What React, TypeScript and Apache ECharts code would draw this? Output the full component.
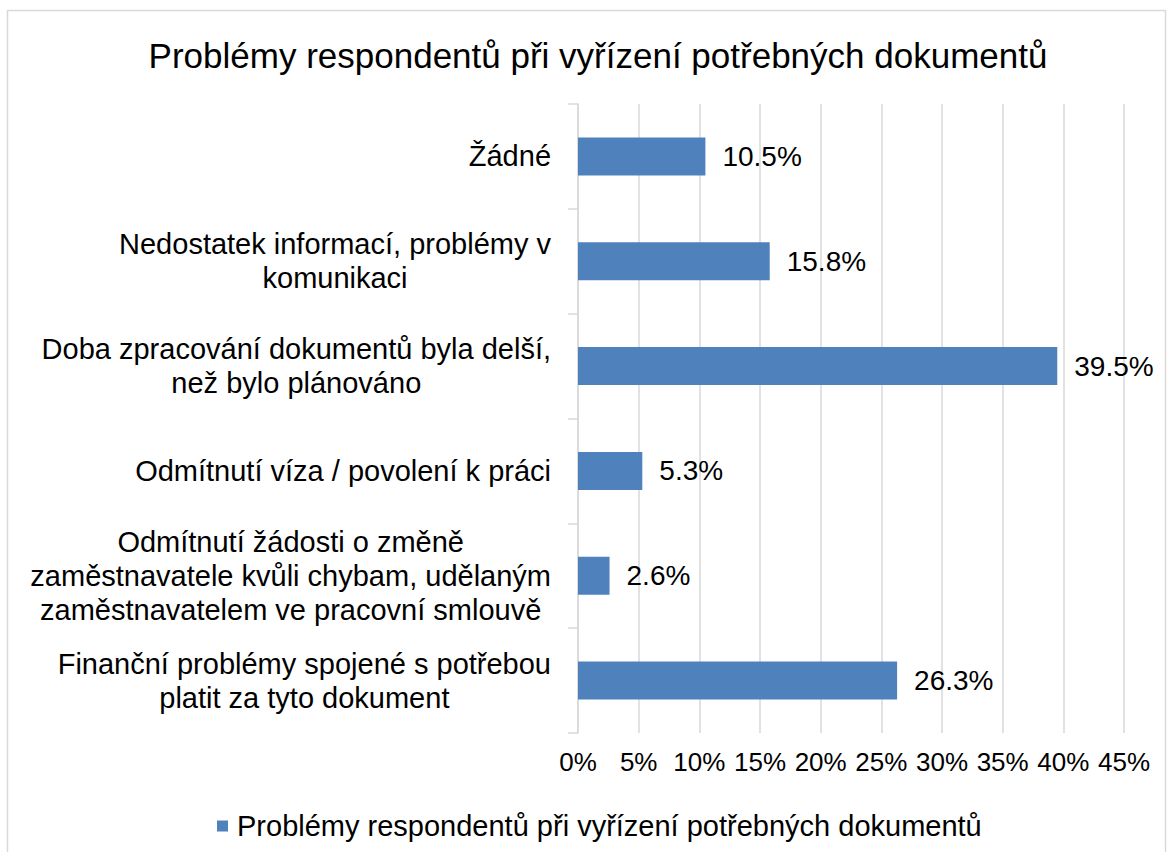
import React, { useEffect, useRef } from "react";
import * as echarts from "echarts";

const TITLE = "Problémy respondentů při vyřízení potřebných dokumentů";
const SERIES_NAME = "Problémy respondentů při vyřízení potřebných dokumentů";

const categories: string[] = [
  "Žádné",
  "Nedostatek informací, problémy v\nkomunikaci",
  "Doba zpracování dokumentů byla delší,\nnež bylo plánováno",
  "Odmítnutí víza / povolení k práci",
  "Odmítnutí žádosti o změně\nzaměstnavatele kvůli chybam, udělaným\nzaměstnavatelem ve pracovní smlouvě",
  "Finanční problémy spojené s potřebou\nplatit za tyto dokument",
];

const values: number[] = [10.5, 15.8, 39.5, 5.3, 2.6, 26.3];

const X_MIN = 0;
const X_MAX = 45;
const X_STEP = 5;

const FONT = "'Liberation Sans', Arial, Helvetica, sans-serif";
const BAR_COLOR = "#4f81bd";
const GRID_COLOR = "#d9d9d9";

export default function App() {
  const ref = useRef<HTMLDivElement>(null);

  useEffect(() => {
    if (!ref.current) return;
    const chart = echarts.init(ref.current, undefined, { renderer: "svg" });
    chart.setOption({
      animation: false,
      backgroundColor: "#ffffff",
      textStyle: { fontFamily: FONT },
      graphic: [
        {
          type: "rect",
          shape: { x: 7.5, y: 10.5, width: 1158, height: 860 },
          style: { fill: "none", stroke: GRID_COLOR, lineWidth: 1.5 },
          silent: true,
        },
      ],
      title: {
        text: TITLE,
        left: 593,
        textAlign: "center",
        top: 29,
        textStyle: {
          fontFamily: FONT,
          fontSize: 35,
          fontWeight: "normal",
          color: "#000000",
          lineHeight: 42,
        },
      },
      legend: {
        data: [SERIES_NAME],
        left: 212,
        top: 804,
        icon: "rect",
        itemWidth: 11,
        itemHeight: 11,
        textStyle: {
          fontFamily: FONT,
          fontSize: 29,
          color: "#000000",
          lineHeight: 34,
          padding: [0, 0, 0, 4],
        },
      },
      grid: {
        left: 578,
        right: 45,
        top: 104,
        bottom: 119,
        containLabel: false,
      },
      xAxis: {
        type: "value",
        min: X_MIN,
        max: X_MAX,
        interval: X_STEP,
        axisLine: { show: false },
        axisTick: { show: false },
        axisLabel: {
          formatter: "{value}%",
          fontFamily: FONT,
          fontSize: 26,
          color: "#000000",
          margin: 16,
        },
        splitLine: {
          show: true,
          lineStyle: { color: GRID_COLOR, width: 1.5 },
        },
      },
      yAxis: {
        type: "category",
        data: categories,
        inverse: true,
        axisLine: { show: true, lineStyle: { color: GRID_COLOR, width: 1.5 } },
        axisTick: {
          show: true,
          length: 10,
          lineStyle: { color: GRID_COLOR, width: 1.5 },
        },
        axisLabel: {
          margin: 27,
          interval: 0,
          formatter: (v: string) =>
            v
              .split("\n")
              .map((l) => `{c|${l}}`)
              .join("\n"),
          rich: {
            c: {
              align: "center",
              fontFamily: FONT,
              fontSize: 29,
              lineHeight: 34,
              color: "#000000",
            },
          },
        },
        splitLine: { show: false },
      },
      series: [
        {
          name: SERIES_NAME,
          type: "bar",
          data: values,
          barWidth: 38,
          itemStyle: { color: BAR_COLOR },
          label: {
            show: true,
            position: "right",
            distance: 17,
            formatter: (p: any) => `${p.value.toFixed(1)}%`,
            fontFamily: FONT,
            fontSize: 28,
            color: "#000000",
          },
        },
      ],
    });
    return () => chart.dispose();
  }, []);

  return (
    <div
      ref={ref}
      style={{ position: "absolute", left: 0, top: 0, width: 1169, height: 852 }}
    />
  );
}
